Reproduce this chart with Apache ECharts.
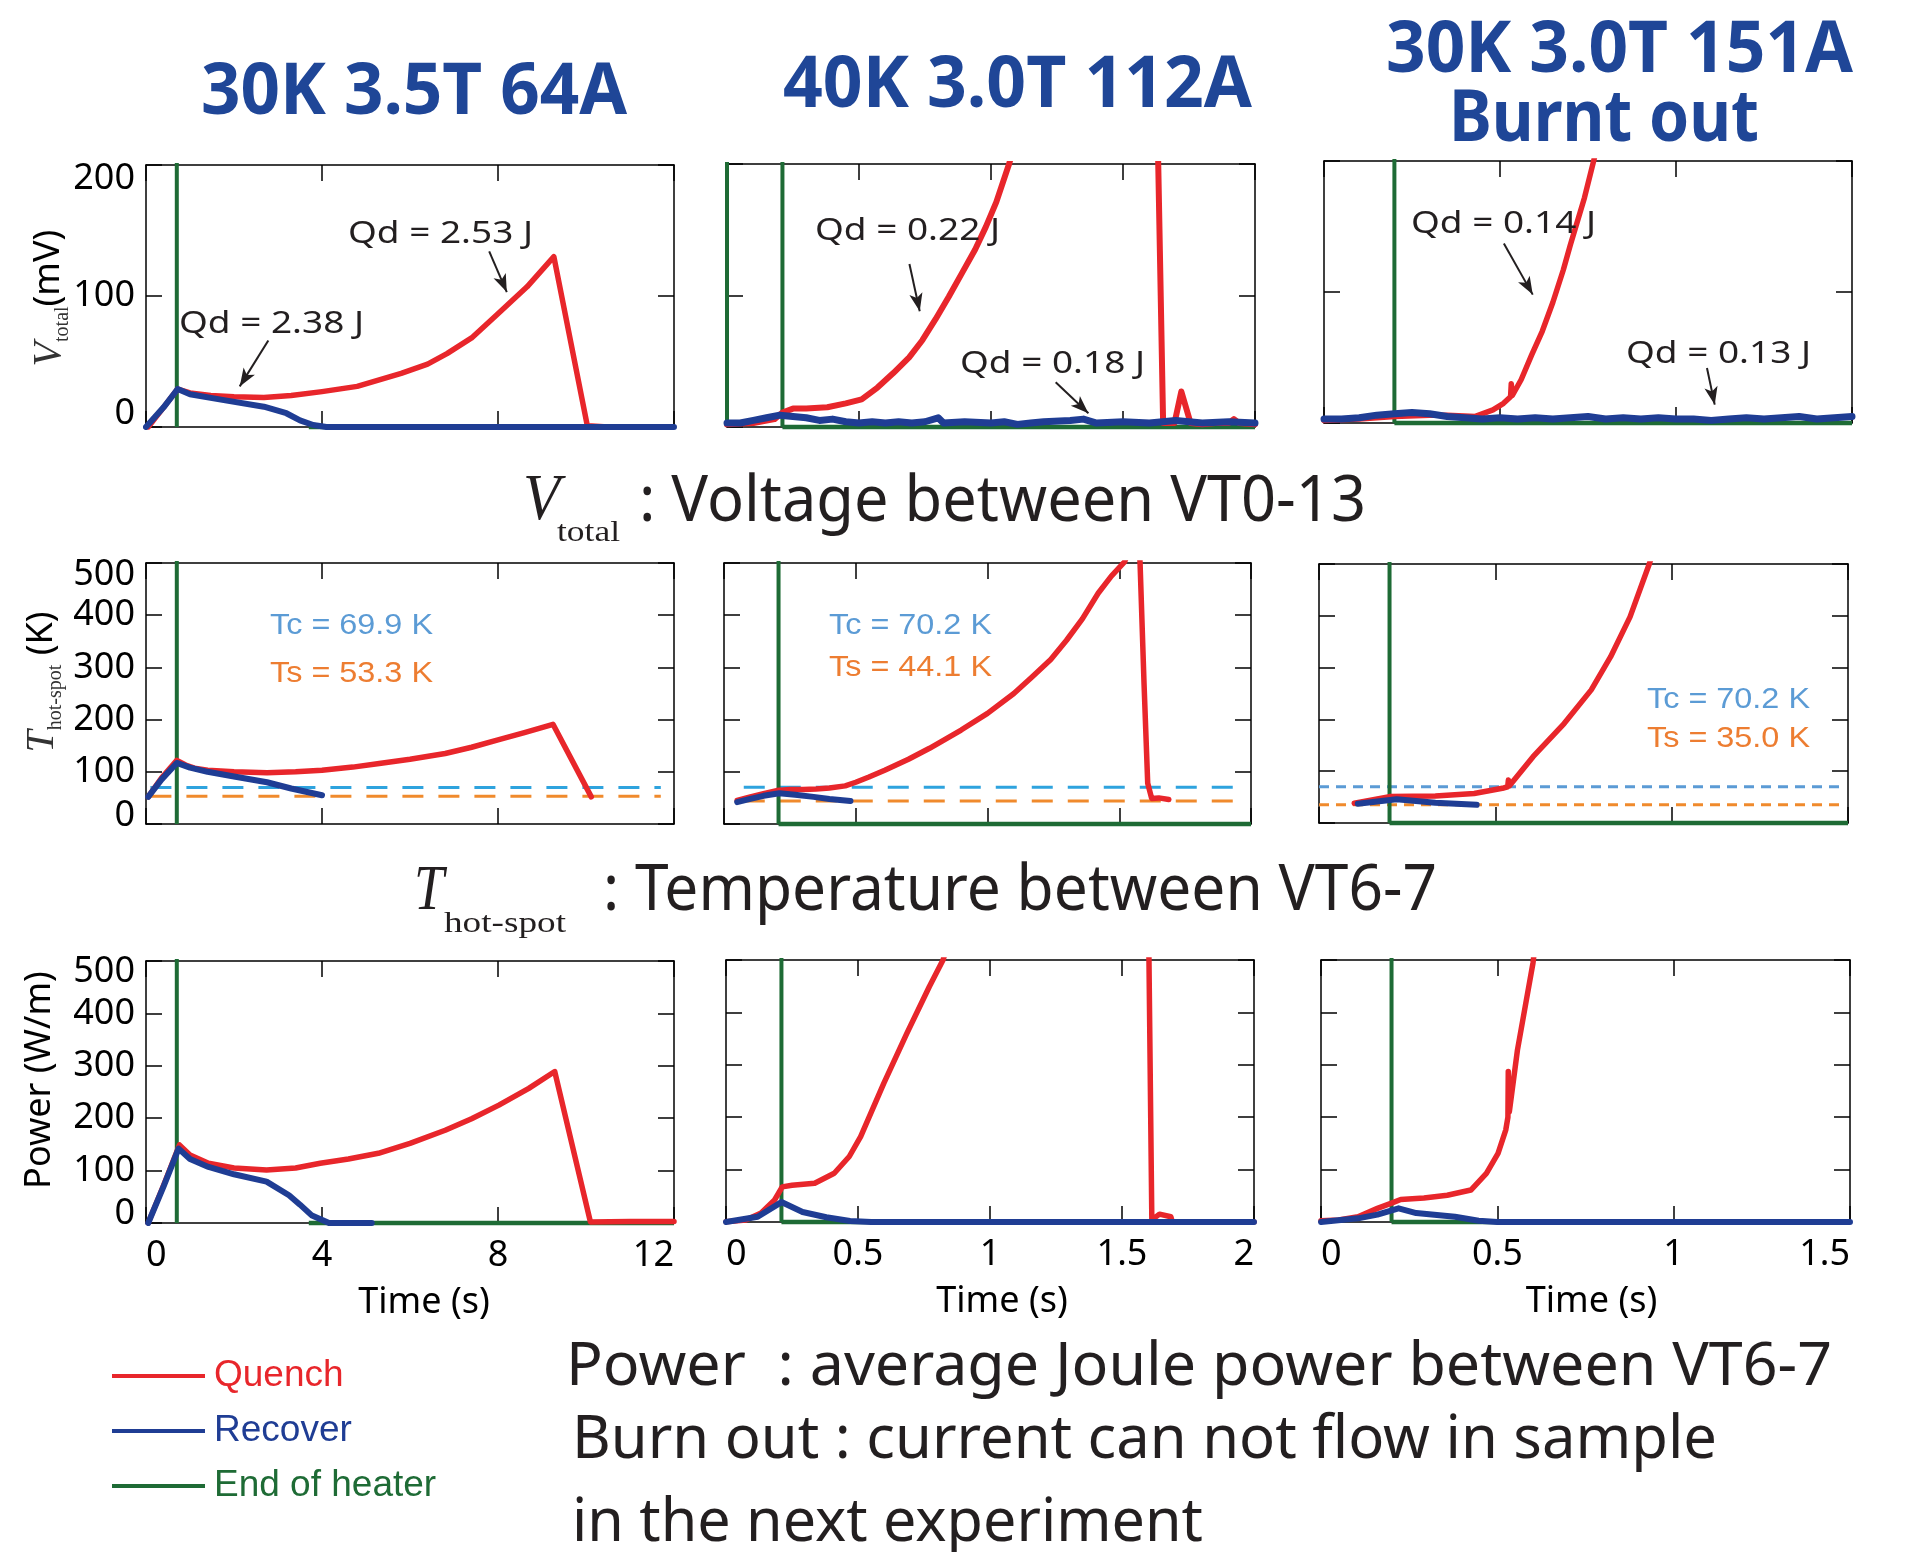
<!DOCTYPE html>
<html><head><meta charset="utf-8">
<script src="https://cdn.jsdelivr.net/npm/echarts@6/dist/echarts.min.js"></script>
<style>html,body{margin:0;padding:0;background:#fff}#c{width:1909px;height:1552px}</style>
</head><body><div id="c"></div><script>
// ================= DATA =================
const caseTitles = ['30K 3.5T 64A', '40K 3.0T 112A', '30K 3.0T 151A'];
const burntNote = 'Burnt out';
const xTicksA = [0, 4, 8, 12];
const xTicksB = [0, 0.5, 1, 1.5, 2];
const xTicksC = [0, 0.5, 1, 1.5];
const yTicksVolt = [0, 100, 200];
const yTicksTemp = [0, 100, 200, 300, 400, 500];
const yTicksPow = [0, 100, 200, 300, 400, 500];

// Case A : 30K 3.5T 64A
const voltQuenchA = [[0.05,0],[0.4,15],[0.72,29],[1.0,26],[1.47,24],[2.0,23],[2.68,22.5],[3.3,24],[4.0,27],[4.8,31],[5.8,41],[6.4,48],[6.84,56],[7.4,68],[7.95,85],[8.66,107],[9.27,130],[10.03,1],[10.5,0],[11.2,0]];
const voltRecoverA = [[0,0],[0.4,15],[0.72,29],[1.0,25],[1.77,20.5],[2.68,15.5],[3.19,10.5],[3.5,5],[3.8,1.5],[4.1,0],[12,0]];
const tempQuenchA = [[0.05,52],[0.35,88],[0.7,122],[0.9,113],[1.1,107],[1.4,103],[2.0,100],[2.75,98],[3.4,100],[4.0,103],[4.7,109],[5.3,116],[6.0,124],[6.8,135],[7.4,147],[8.0,161],[8.6,175],[9.25,191],[10.12,52]];
const tempRecoverA = [[0.05,52],[0.35,85],[0.7,117],[1.0,108],[1.4,100],[2.0,91],[2.75,80],[3.3,68],[4.0,55]];
const powQuenchA = [[0.05,0],[0.4,72],[0.76,149],[1.0,130],[1.42,114],[2.0,105],[2.74,101],[3.4,105],[3.96,114],[4.6,122],[5.28,133],[6.0,152],[6.8,177],[7.4,199],[8.02,225],[8.7,257],[9.29,289],[10.1,2],[11,3],[12,3]];
const powRecoverA = [[0.05,0],[0.4,70],[0.74,142],[1.0,122],[1.42,107],[2.0,93],[2.74,79],[3.25,53],[3.5,35],[3.76,15],[4.16,0],[5.13,0]];

// Case B : 40K 3.0T 112A
const voltQuenchB = [[0,2],[0.1,3],[0.18,6],[0.21,11],[0.25,14],[0.3,14],[0.38,15],[0.45,18],[0.51,21],[0.57,30],[0.63,41],[0.69,53],[0.74,66],[0.79,82],[0.84,99],[0.89,117],[0.94,135],[0.98,152],[1.02,171],[1.07,201],[1.12,240],[1.3,450],[1.5,800],[1.62,900],[1.633,205],[1.652,3],[1.695,3],[1.721,27],[1.756,3],[1.8,2],[1.85,3],[1.9,3],[1.92,6],[1.94,3],[2.0,2]];
const voltRecoverB = [[0,3],[0.05,3],[0.1,5],[0.15,7],[0.2,9],[0.25,8],[0.3,7],[0.35,5],[0.4,6],[0.45,4],[0.5,3],[0.55,4],[0.6,3],[0.65,4],[0.7,3],[0.75,4],[0.8,7],[0.82,3],[0.9,4],[1.0,3],[1.05,4],[1.1,2],[1.15,3],[1.2,4],[1.3,5],[1.35,6],[1.4,3],[1.5,4],[1.6,3],[1.7,5],[1.8,3],[1.9,4],[2.0,3]];
const tempQuenchB = [[0.05,45],[0.1,52],[0.15,58],[0.2,64],[0.25,66],[0.3,66],[0.35,67],[0.4,69],[0.46,73],[0.5,80],[0.55,90],[0.61,103],[0.7,124],[0.78,145],[0.9,180],[1.0,212],[1.1,250],[1.17,282],[1.24,315],[1.3,352],[1.36,393],[1.42,442],[1.47,475],[1.52,502],[1.55,540],[1.565,560],[1.575,540],[1.579,500],[1.594,270],[1.608,78],[1.623,49],[1.65,50],[1.688,47]];
const tempRecoverB = [[0.05,42],[0.1,48],[0.15,54],[0.21,59],[0.27,56],[0.34,52],[0.4,48],[0.48,44]];
const powQuenchB = [[0,0.5],[0.075,4],[0.133,17],[0.184,42],[0.213,67],[0.25,70],[0.336,74],[0.41,93],[0.467,125],[0.51,163],[0.598,265],[0.685,360],[0.77,449],[0.822,500],[0.9,620],[1.2,1000],[1.55,1200],[1.6,600],[1.613,4],[1.642,15],[1.685,10],[1.69,1],[2.0,0]];
const powRecoverB = [[0,0],[0.12,10],[0.21,38],[0.29,19],[0.38,9],[0.47,2],[0.55,0],[2.0,0]];

// Case C : 30K 3.0T 151A (burnt out)
const voltQuenchC = [[0,2],[0.1,3],[0.2,5],[0.3,6],[0.35,6],[0.43,5],[0.48,10],[0.51,15],[0.53,20],[0.532,30],[0.535,21],[0.56,33],[0.59,52],[0.62,70],[0.65,92],[0.68,117],[0.70,136],[0.74,172],[0.767,201],[0.8,240]];
const voltRecoverC = [[0,3],[0.05,3],[0.1,4],[0.15,6],[0.2,7],[0.25,8],[0.3,7],[0.35,5],[0.4,4],[0.45,3],[0.5,4],[0.55,3],[0.6,4],[0.65,3],[0.7,4],[0.75,5],[0.8,3],[0.85,4],[0.9,3],[0.95,4],[1.0,3],[1.05,3],[1.1,2],[1.15,3],[1.2,4],[1.25,3],[1.3,4],[1.35,5],[1.4,3],[1.45,4],[1.5,5]];
const tempQuenchC = [[0.1,38],[0.2,51],[0.33,52],[0.44,57],[0.52,67],[0.535,70],[0.537,83],[0.54,72],[0.607,128],[0.695,192],[0.772,257],[0.827,321],[0.882,398],[0.937,501],[0.96,550]];
const tempRecoverC = [[0.11,37],[0.22,46],[0.33,39],[0.447,35]];
const powQuenchC = [[0,2.5],[0.05,4],[0.105,10],[0.16,26],[0.2,36],[0.226,43],[0.292,46],[0.358,51],[0.425,61],[0.469,93],[0.502,131],[0.524,176],[0.53,200],[0.531,287],[0.534,210],[0.557,328],[0.579,411],[0.601,494],[0.62,600]];
const powRecoverC = [[0,0],[0.105,7],[0.16,14],[0.22,26],[0.27,17],[0.38,10],[0.447,2.5],[0.5,0],[1.5,0]];

// End of heater: vertical marks (time) and the zero-level trace span, per row / column
const heaterEndVolt = [[0.7], [0, 0.21], [0.2]];
const heaterEndTemp = [[0.7], [0.207], [0.2]];
const heaterEndPow = [[0.7], [0.21], [0.2]];
const heaterBaseVolt = [[3.7, 12], [0.21, 2], [0.2, 1.5]];
const heaterBaseTemp = [null, [0.207, 2], [0.2, 1.5]];
const heaterBasePow = [[3.7, 12], [0.21, 2], [0.2, 1.5]];

// Tc / Ts thresholds (K) and their drawn time span
const tcValues = [69.9, 70.2, 70.2];
const tsValues = [53.3, 44.1, 35.0];
const thresholdSpan = [[0.1, 11.7], [0.075, 1.94], [0, 1.48]];

// Qd annotations: label and arrow [from, to] in data units (row 1)
const qdLabels = [['Qd = 2.53 J', 'Qd = 2.38 J'], ['Qd = 0.22 J', 'Qd = 0.18 J'], ['Qd = 0.14 J', 'Qd = 0.13 J']];
const qdArrows = [
  [[[7.8, 134], [8.2, 103]], [[2.78, 66], [2.13, 31]]],
  [[[0.691, 124], [0.73, 88]], [[1.245, 34], [1.369, 10.5]]],
  [[[0.511, 137], [0.593, 98]], [[1.088, 42], [1.11, 14]]]
];

// ================= LAYOUT / STYLE =================
const RED = '#e8262b', BLUE = '#1f3d94', GREEN = '#1e6b35', TC = '#2ea3de', TS = '#f08a2c';
const TXT = '#231f20', TITLE = '#1f4697';
const boxes = [
  [146,165,528,262],[727,164,528,263],[1324,161,528,262],
  [146,563,528,261],[724,563,527,261],[1319,564,529,259],
  [146,961,528,262],[726,960,528,262],[1321,960,529,262]
];
// edge-label nudges (px padding) for [min, max] y labels of each row
const edgeLabelPad = [[26, 28], [16, 24], [18, 22]];
const xTicks = [xTicksA, xTicksB, xTicksC];
const yTicks = [yTicksVolt, yTicksTemp, yTicksPow];
const quench = [[voltQuenchA, voltQuenchB, voltQuenchC],[tempQuenchA, tempQuenchB, tempQuenchC],[powQuenchA, powQuenchB, powQuenchC]];
const recover = [[voltRecoverA, voltRecoverB, voltRecoverC],[tempRecoverA, tempRecoverB, tempRecoverC],[powRecoverA, powRecoverB, powRecoverC]];
const heaterEnd = [heaterEndVolt, heaterEndTemp, heaterEndPow];
const heaterBase = [heaterBaseVolt, heaterBaseTemp, heaterBasePow];
const timeNameShift = [28, 24, 12];

const grids = [], xAxes = [], yAxes = [], series = [];
const axisLineStyle = {color:'#000', width:1.5};
const lblFont = {fontSize:36, fontFamily:'Noto Sans', color:'#000'};
for (let r = 0; r < 3; r++) {
  for (let c = 0; c < 3; c++) {
    const i = r * 3 + c, b = boxes[i];
    grids.push({left:b[0], top:b[1], width:b[2], height:b[3], containLabel:false, outerBoundsMode:'none'});
    const xt = xTicks[c], yt = yTicks[r];
    const xb = {type:'value', gridIndex:i, min:xt[0], max:xt[xt.length-1], interval:xt[1]-xt[0],
      splitLine:{show:false}, axisLine:{show:true, onZero:false, lineStyle:axisLineStyle},
      axisTick:{show:true, inside:true, length:16, lineStyle:axisLineStyle}};
    xAxes.push(Object.assign({}, xb, {position:'bottom',
      axisLabel:{show:r===2, fontSize:36, fontFamily:'Noto Sans', color:'#000', margin:15,
        showMinLabel:true, showMaxLabel:true, hideOverlap:false, alignMinLabel:'left', alignMaxLabel:'right'},
      name: r===2 ? 'Time (s)' : '', nameLocation:'middle', nameGap:62,
      nameTextStyle:{fontSize:36, fontFamily:'Noto Sans', color:'#000', padding:[0,0,0,timeNameShift[c]]}}));
    xAxes.push(Object.assign({}, xb, {position:'top', axisLabel:{show:false}}));
    const yb = {type:'value', gridIndex:i, min:yt[0], max:yt[yt.length-1], interval:yt[1]-yt[0],
      splitLine:{show:false}, axisLine:{show:true, onZero:false, lineStyle:axisLineStyle},
      axisTick:{show:true, inside:true, length:16, lineStyle:axisLineStyle}};
    const yMin = yt[0], yMax = yt[yt.length-1], pads = edgeLabelPad[r];
    yAxes.push(Object.assign({}, yb, {position:'left',
      axisLabel:{show:c===0, fontSize:36, fontFamily:'Noto Sans', color:'#000', margin:11,
        showMinLabel:true, showMaxLabel:true, hideOverlap:false,
        formatter: v => v === yMin ? '{lo|' + v + '}' : (v === yMax ? '{hi|' + v + '}' : '{m|' + v + '}'),
        rich:{lo:Object.assign({padding:[0,0,pads[0],0]}, lblFont), hi:Object.assign({padding:[pads[1],0,0,0]}, lblFont), m:Object.assign({}, lblFont)}}}));
    yAxes.push(Object.assign({}, yb, {position:'right', axisLabel:{show:false}}));

    const xi = 2 * i, yi = 2 * i;
    const top = yt[yt.length-1] * 1.5;
    // End of heater (green)
    heaterEnd[r][c].forEach(t => {
      series.push({name:'End of heater', type:'line', xAxisIndex:xi, yAxisIndex:yi, data:[[t, top],[t, 0]],
        showSymbol:false, symbol:'none', clip:true, z:2, color:GREEN,
        lineStyle:{color:GREEN, width:4}, itemStyle:{color:GREEN}});
    });
    if (heaterBase[r][c]) {
      const s = heaterBase[r][c];
      series.push({name:'End of heater', type:'line', xAxisIndex:xi, yAxisIndex:yi, data:[[s[0], 0],[s[1], 0]],
        showSymbol:false, symbol:'none', clip:false, z:2, color:GREEN,
        lineStyle:{color:GREEN, width:4.5}, itemStyle:{color:GREEN}});
    }
    // Tc / Ts dashed
    if (r === 1) {
      const sp = thresholdSpan[c];
      const dash = c === 2 ? [10, 7] : [21, 15];
      series.push({name:'Tc', type:'line', xAxisIndex:xi, yAxisIndex:yi, data:[[sp[0], tcValues[c]],[sp[1], tcValues[c]]],
        showSymbol:false, symbol:'none', z:1, color:TC, lineStyle:{color:c===2?'#5b9bd5':TC, width:3, type:dash}});
      series.push({name:'Ts', type:'line', xAxisIndex:xi, yAxisIndex:yi, data:[[sp[0], tsValues[c]],[sp[1], tsValues[c]]],
        showSymbol:false, symbol:'none', z:1, color:TS, lineStyle:{color:TS, width:3, type:dash}});
    }
    // Quench (red)
    const qs = {name:'Quench', type:'line', xAxisIndex:xi, yAxisIndex:yi, data:quench[r][c],
      showSymbol:false, symbol:'none', clip:true, z:3, color:RED,
      lineStyle:{color:RED, width:(r===0 && c===1) ? 6 : 5.5, join:'round', cap:'round'}, itemStyle:{color:RED}};
    if (r === 0) {
      qs.markLine = {silent:true, symbol:['none','arrow'], symbolSize:[10,18], animation:false,
        label:{show:false}, lineStyle:{color:TXT, width:2, type:'solid'},
        emphasis:{disabled:true},
        data: qdArrows[c].map(a => [{coord:a[0]}, {coord:a[1]}])};
    }
    series.push(qs);
    // Recover (blue)
    series.push({name:'Recover', type:'line', xAxisIndex:xi, yAxisIndex:yi, data:recover[r][c],
      showSymbol:false, symbol:'none', clip:true, z:4, color:BLUE,
      lineStyle:{color:BLUE, width:(r===0 && c>0) ? 7 : 6, join:'round', cap:'round'}, itemStyle:{color:BLUE}});
  }
}

// ---------- text helpers ----------
const mctx = document.createElement('canvas').getContext('2d');
function fitText(text, left, midY, size, width, opt) {
  opt = opt || {};
  const family = opt.family || 'Noto Sans', weight = opt.weight || 'normal', fst = opt.fontStyle || 'normal';
  mctx.font = fst + ' ' + weight + ' ' + size + 'px "' + family + '"';
  const w = mctx.measureText(text).width || width;
  return {type:'text', x:left, y:midY, scaleX:width / w, scaleY:1, silent:true, z:50,
    style:{text:text, fill:opt.color || TXT, fontSize:size, fontFamily:family, fontWeight:weight, fontStyle:fst,
      textAlign:'left', textVerticalAlign:'middle', align:'left', verticalAlign:'middle'}};
}
function rotName(x, y, text, rich) {
  return {type:'text', x:x, y:y, rotation:Math.PI/2, silent:true, z:50,
    style:{text:text, rich:rich, fill:'#000', fontSize:36, fontFamily:'Noto Sans',
      textAlign:'center', textVerticalAlign:'middle', align:'center', verticalAlign:'middle'}};
}
const nameRich = {
  v:{fontFamily:'Liberation Serif', fontStyle:'italic', fontSize:40, lineHeight:60, verticalAlign:'middle', fill:'#333'},
  s:{fontFamily:'Liberation Serif', fontSize:20, lineHeight:60, verticalAlign:'bottom', padding:[0,0,6,0], fill:'#333'},
  u:{fontFamily:'Noto Sans', fontSize:36, lineHeight:60, verticalAlign:'middle', fill:'#000'}
};

const graphics = [
  fitText(caseTitles[0], 201, 93, 72, 426, {weight:'bold', color:TITLE}),
  fitText(caseTitles[1], 783, 86, 72, 469, {weight:'bold', color:TITLE}),
  fitText(caseTitles[2], 1386, 51, 72, 467, {weight:'bold', color:TITLE}),
  fitText(burntNote, 1449, 120, 72, 310, {weight:'bold', color:TITLE}),

  fitText('V', 523, 502, 66, 37, {family:'Liberation Serif', fontStyle:'italic'}),
  fitText('total', 557, 533, 30, 63, {family:'Liberation Serif'}),
  fitText(': Voltage between VT0-13', 639, 503, 64, 727),
  fitText('T', 414, 892, 64, 30, {family:'Liberation Serif', fontStyle:'italic'}),
  fitText('hot-spot', 444, 924, 30, 122, {family:'Liberation Serif'}),
  fitText(': Temperature between VT6-7', 603, 892, 64, 834),

  fitText('Power  : average Joule power between VT6-7', 566, 1368, 60, 1266),
  fitText('Burn out : current can not flow in sample', 572, 1441, 60, 1145),
  fitText('in the next experiment', 572, 1524, 60, 631),

  fitText(qdLabels[0][0], 348, 234, 31, 185),
  fitText(qdLabels[0][1], 179, 324, 31, 185),
  fitText(qdLabels[1][0], 815, 231, 31, 185),
  fitText(qdLabels[1][1], 960, 364, 31, 185),
  fitText(qdLabels[2][0], 1411, 224, 31, 185),
  fitText(qdLabels[2][1], 1626, 354, 31, 185),

  fitText('Tc = ' + tcValues[0].toFixed(1) + ' K', 270, 626, 29, 163, {color:'#5b9bd5', family:'Liberation Sans'}),
  fitText('Ts = ' + tsValues[0].toFixed(1) + ' K', 270, 674, 29, 163, {color:'#ed7d31', family:'Liberation Sans'}),
  fitText('Tc = ' + tcValues[1].toFixed(1) + ' K', 829, 626, 29, 163, {color:'#5b9bd5', family:'Liberation Sans'}),
  fitText('Ts = ' + tsValues[1].toFixed(1) + ' K', 829, 668, 29, 163, {color:'#ed7d31', family:'Liberation Sans'}),
  fitText('Tc = ' + tcValues[2].toFixed(1) + ' K', 1647, 700, 29, 163, {color:'#5b9bd5', family:'Liberation Sans'}),
  fitText('Ts = ' + tsValues[2].toFixed(1) + ' K', 1647, 739, 29, 163, {color:'#ed7d31', family:'Liberation Sans'}),

  rotName(49, 298, '{v|V}{s|total}{u|(mV)}', nameRich),
  rotName(42, 682, '{v|T}{s|hot-spot}{u| (K)}', nameRich),
  rotName(40, 1080, 'Power (W/m)', null)
];

const chart = echarts.init(document.getElementById('c'), null, {renderer:'canvas'});
chart.setOption({
  animation:false,
  backgroundColor:'#fff',
  grid:grids, xAxis:xAxes, yAxis:yAxes, series:series,
  legend:{orient:'vertical', left:112, top:1356, padding:0, itemWidth:93, itemHeight:4, itemGap:15, icon:'rect',
    selectedMode:false,
    textStyle:{fontSize:37, fontFamily:'Liberation Sans', lineHeight:40, padding:[0,0,0,4]},
    data:[{name:'Quench', textStyle:{color:RED}}, {name:'Recover', textStyle:{color:BLUE}}, {name:'End of heater', textStyle:{color:GREEN}}]},
  graphic:graphics
});
</script></body></html>
